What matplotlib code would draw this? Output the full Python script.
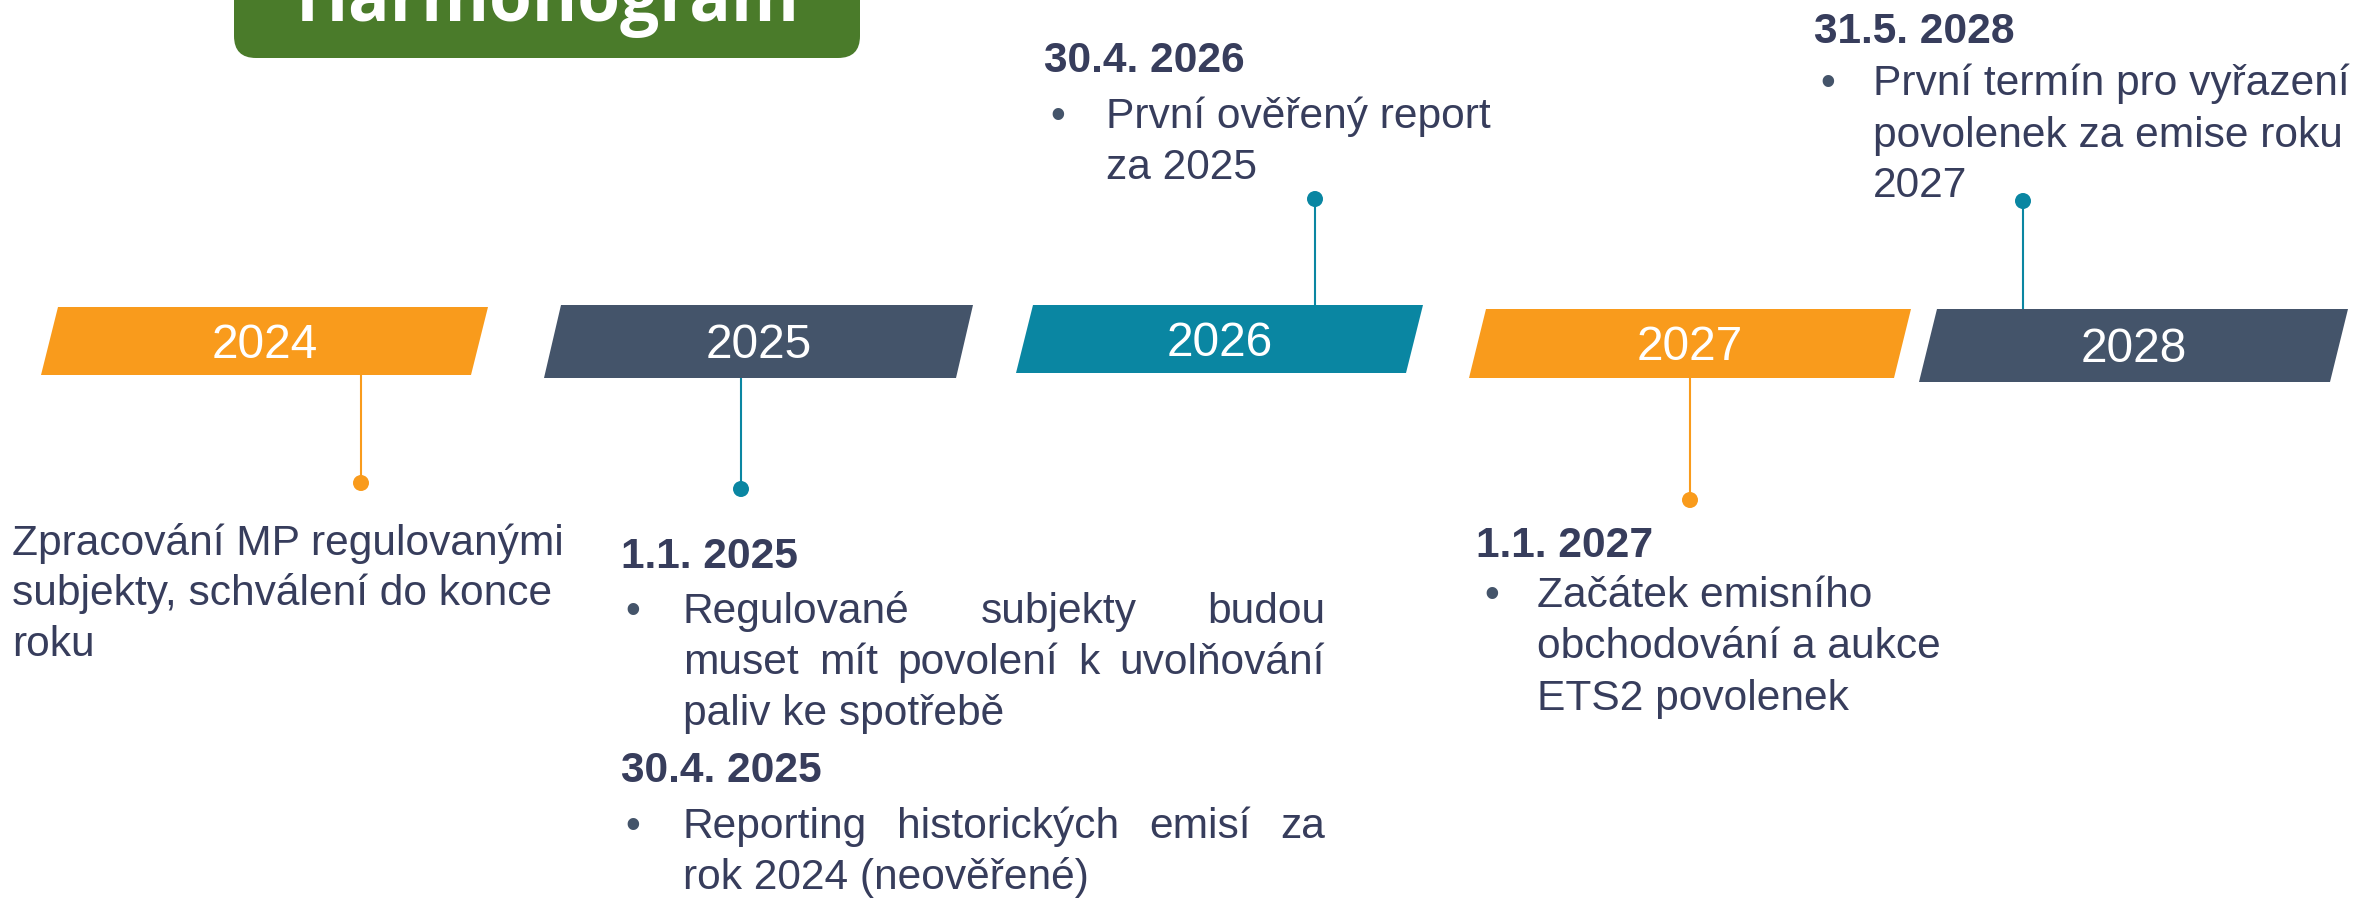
import matplotlib
matplotlib.use("Agg")
import matplotlib.pyplot as plt
from matplotlib.patches import Polygon, Circle, FancyBboxPatch

# barvy
ORANGE = "#F99B1C"
SLATE = "#44546A"
TEAL = "#0A86A2"
GREEN = "#4A7B2A"
NAVY = "#373D5C"

BODY = ["Liberation Sans", "DejaVu Sans"]
FS = 30.6  # ~42 px

title = "Harmonogram"

years = ["2024", "2025", "2026", "2027", "2028"]
bar_colors = [ORANGE, SLATE, TEAL, ORANGE, SLATE]
conn_colors = [ORANGE, TEAL, TEAL, ORANGE, TEAL]

# textove bloky: (typ, text)
block_2024 = [("plain", "Zpracování MP regulovanými"),
              ("plain", "subjekty, schválení do konce"),
              ("plain", "roku")]
block_2025 = [("head", "1.1. 2025"),
              ("bullet_j", "Regulované subjekty budou"),
              ("just", "muset mít povolení k uvolňování"),
              ("plain", "paliv ke spotřebě"),
              ("head", "30.4. 2025"),
              ("bullet_j", "Reporting historických emisí za"),
              ("plain", "rok 2024 (neověřené)")]
block_2026 = [("head", "30.4. 2026"),
              ("bullet", "První ověřený report"),
              ("plain", "za 2025")]
block_2027 = [("head", "1.1. 2027"),
              ("bullet", "Začátek emisního"),
              ("plain", "obchodování a aukce"),
              ("plain", "ETS2 povolenek")]
block_2028 = [("head", "31.5. 2028"),
              ("bullet", "První termín pro vyřazení"),
              ("plain", "povolenek za emise roku"),
              ("plain", "2027")]

# rozlozeni (pixely)
bar_geom = [  # bottom-left x, bottom-right x, top y, bottom y, skew
    (41, 471, 307, 375, 17),
    (544, 956, 305, 378, 17),
    (1016, 1406, 305, 373, 17),
    (1469, 1894, 309, 378, 17),
    (1919, 2330, 309, 382, 18),
]
conn_x = [361, 741, 1315, 1690, 2023]
dot_y = [483, 489, 199, 500, 201]
conn_up = [False, False, True, False, True]

# bloky: (obsah, x hlavicky, x odrazky, x textu, prava mez, baseliny)
blocks = [
    (block_2024, 12, None, 12, None, [555, 605, 656]),
    (block_2025, 621, 625, 683, 1325, [568, 623, 674, 725, 782, 838, 889]),
    (block_2026, 1044, 1050, 1106, None, [72, 128, 179]),
    (block_2027, 1476, 1484, 1537, None, [557, 607, 658, 710]),
    (block_2028, 1814, 1820, 1873, None, [43, 95, 147, 197]),
]

fig = plt.figure(figsize=(23.58, 8.98), dpi=100)
ax = fig.add_axes([0, 0, 1, 1])
ax.set_xlim(0, 2358)
ax.set_ylim(898, 0)
ax.axis("off")
renderer = fig.canvas.get_renderer()

# nadpis v zelenem boxu
box = FancyBboxPatch((234, -60), 626, 118, boxstyle="round,pad=0,rounding_size=22",
                     facecolor=GREEN, edgecolor="none")
ax.add_patch(box)
t = ax.text(548, 21, title, color="white", fontsize=50, fontweight="bold",
            family=["Open Sans", "DejaVu Sans"], ha="center", va="baseline")
w = t.get_window_extent(renderer).width
t.set_fontsize(50 * 504 / w)

# roky
for yr, col, (bl, br, top, bot, sk) in zip(years, bar_colors, bar_geom):
    ax.add_patch(Polygon([(bl, bot), (bl + sk, top), (br + sk, top), (br, bot)],
                         closed=True, facecolor=col, edgecolor="none"))
    cx = (bl + br + sk) / 2
    ax.text(cx, (top + bot) / 2 + 17, yr, color="white", fontsize=34.5,
            family=BODY, ha="center", va="baseline")

# spojnice a tecky
for x, yd, up, col, (bl, br, top, bot, sk) in zip(conn_x, dot_y, conn_up, conn_colors, bar_geom):
    y0 = top if up else bot
    ax.plot([x, x], [y0, yd], color=col, lw=1.5, solid_capstyle="butt")
    ax.add_patch(Circle((x, yd), 8, facecolor=col, edgecolor="none"))


def justified(words, x0, x1, y):
    items = [ax.text(x0, y, wd, color=NAVY, fontsize=FS, family=BODY,
                     ha="left", va="baseline") for wd in words]
    widths = [it.get_window_extent(renderer).width for it in items]
    gap = (x1 - x0 - sum(widths)) / (len(items) - 1)
    x = x0
    for it, wd in zip(items, widths):
        it.set_x(x)
        x += wd + gap


for content, hx, bx, tx, xr, ys in blocks:
    for (kind, txt), y in zip(content, ys):
        if kind == "head":
            ax.text(hx, y, txt, color=NAVY, fontsize=FS, fontweight="bold",
                    family=BODY, ha="left", va="baseline")
            continue
        if kind.startswith("bullet"):
            ax.text(bx, y, "•", color=SLATE, fontsize=FS, family=BODY,
                    ha="left", va="baseline")
        if kind in ("bullet_j", "just"):
            justified(txt.split(" "), tx, xr, y)
        else:
            ax.text(tx, y, txt, color=NAVY, fontsize=FS, family=BODY,
                    ha="left", va="baseline")

fig.savefig("out.png", dpi=100)
